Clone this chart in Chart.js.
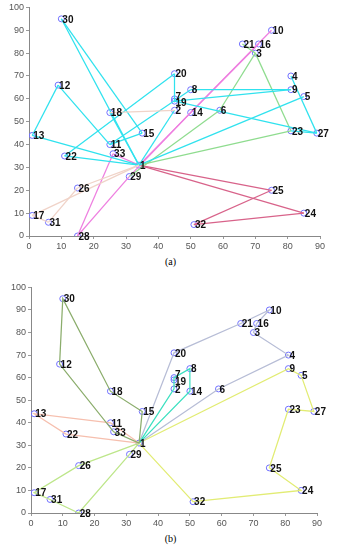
<!DOCTYPE html>
<html>
<head>
<meta charset="utf-8">
<script src="https://cdn.jsdelivr.net/npm/chart.js@4.4.0/dist/chart.umd.min.js"></script>
<style>
  html, body { margin: 0; padding: 0; background: #fff; }
  body { width: 341px; height: 550px; position: relative; overflow: hidden; font-family: "Liberation Serif", serif; }
  .wrap { position: absolute; left: 0; width: 341px; }
  .cap { position: absolute; width: 341px; text-align: center; font-size: 10px; color: #000; font-family: "Liberation Serif", serif; }
</style>
</head>
<body>
<div class="wrap" id="wa" style="top:0px;height:252px;"><canvas id="ca"></canvas></div>
<div class="cap" style="top:256px;">(a)</div>
<div class="wrap" id="wb" style="top:280px;height:250px;"><canvas id="cb"></canvas></div>
<div class="cap" style="top:533px;">(b)</div>
<script>
// ---- data ----
const nodeIds = [1,2,3,4,5,6,7,8,9,10,11,12,13,14,15,16,17,18,19,20,21,22,23,24,25,26,27,28,29,30,31,32,33];
const nodeX   = [34,45,70,81,85,59,45,50,81,75,25, 9, 1,50,35,71, 1,25,45,45,66,11,81,85,75,15,89,15,31,10, 6,51,26];
const nodeY   = [31,55,80,70,61,55,60,64,64,90,40,66,44,54,45,84, 9,54,59,71,84,35,46,10,20,21,45, 0,26,95, 6, 5,36];
const xTicks = [0,10,20,30,40,50,60,70,80,90];
const yTicks = [0,10,20,30,40,50,60,70,80,90,100];

// chart (a): edge lists per colour group
const cyanEdgesA    = [[30,1],[30,15],[12,13],[12,11],[13,1],[22,1],[22,20],[20,19],[11,15],[11,8],[8,9],[19,9],[19,27],[5,1],[4,27],[23,27],[18,1],[1,2]];
const pinkEdgesA    = [[1,33],[33,28],[28,29],[29,14],[14,10],[1,16]];
const greenEdgesA   = [[29,6],[6,3],[3,23],[23,1],[21,3]];
const crimsonEdgesA = [[1,25],[25,32],[32,24],[24,1]];
const peachEdgesA   = [[1,17],[17,31],[31,26],[26,1],[18,2]];

// chart (b): routes
const routeOlive  = [1,15,18,30,12,33,1];
const routeSalmon = [1,11,13,22,1];
const routeTeal   = [1,2,19,7,8,14,1];
const routeGrey   = [1,20,21,10,16,3,4,6,1];
const routeYellow = [1,9,5,27,23,25,24,32,1];
const routeLime   = [1,29,28,31,17,26,1];

// ---- helpers ----
const LW = 1.25;
function pt(id){ const i = nodeIds.indexOf(id); return {x: nodeX[i], y: nodeY[i]}; }
function edgeSets(edges, color){
  return edges.map(e => ({ type:'line', data:[pt(e[0]), pt(e[1])], borderColor: color, borderWidth: LW, pointRadius: 0, showLine: true, fill:false, tension:0 }));
}
function routeSet(route, color){
  return { type:'line', data: route.map(pt), borderColor: color, borderWidth: LW, pointRadius: 0, showLine: true, fill:false, tension:0 };
}
function nodeSet(){
  return { type:'scatter', data: nodeIds.map(pt), pointStyle:'circle', pointRadius: 3, pointBorderWidth: 1,
    pointBorderColor:'#7070ff', pointBackgroundColor:'rgba(255,255,255,0)', showLine:false };
}
const labelPlugin = {
  id:'nodeLabels',
  afterDatasetsDraw(chart){
    const ctx = chart.ctx, xs = chart.scales.x, ys = chart.scales.y;
    ctx.save();
    ctx.font = 'bold 10px "Liberation Sans", Arial, sans-serif';
    ctx.fillStyle = '#111';
    ctx.textBaseline = 'middle';
    ctx.textAlign = 'left';
    nodeIds.forEach((id, i) => {
      const px = xs.getPixelForValue(nodeX[i]);
      let py = ys.getPixelForValue(nodeY[i]);
      if (id === 7) py -= 3;
      if (id === 19) py += 1;
      ctx.fillText(String(id), px + 1, py + 1);
    });
    ctx.restore();
  }
};
function makeOptions(yw, xh, padR, padT){
  return {
    responsive:true, maintainAspectRatio:false, animation:false,
    layout:{ padding:{ left:0, right:padR, top:padT, bottom:0 } },
    plugins:{ legend:{display:false}, tooltip:{enabled:false} },
    scales:{
      x:{ type:'linear', min:0, max:90,
          afterBuildTicks(s){ s.ticks = xTicks.map(v=>({value:v})); },
          afterFit(s){ s.height = xh; },
          grid:{ drawOnChartArea:false, drawTicks:true, tickLength:3, color:'#999' },
          border:{ display:true, color:'#888', width:1 },
          ticks:{ color:'#555', font:{ size:9, family:'"Liberation Sans", Arial, sans-serif' }, padding:2, maxRotation:0 } },
      y:{ type:'linear', min:0, max:100,
          afterBuildTicks(s){ s.ticks = yTicks.map(v=>({value:v})); },
          afterFit(s){ s.width = yw; },
          grid:{ drawOnChartArea:false, drawTicks:true, tickLength:3, color:'#999' },
          border:{ display:true, color:'#888', width:1 },
          ticks:{ color:'#555', font:{ size:9, family:'"Liberation Sans", Arial, sans-serif' }, padding:2 } }
    }
  };
}

const dsA = [].concat(
  edgeSets(peachEdgesA, '#f0d3c8'),
  edgeSets(cyanEdgesA, '#30e2ee'),
  edgeSets(greenEdgesA, '#8fdc8f'),
  edgeSets(pinkEdgesA, '#ee7fe0'),
  edgeSets(crimsonEdgesA, '#d8638a'),
  [nodeSet()]
);
new Chart(document.getElementById('ca'), { type:'scatter', data:{ datasets: dsA }, options: makeOptions(29, 16, 21, 5), plugins:[labelPlugin] });

const dsB = [
  routeSet(routeOlive, '#8bad6c'),
  routeSet(routeSalmon, '#f6bfae'),
  routeSet(routeTeal, '#3de0c0'),
  routeSet(routeGrey, '#b7bdd6'),
  routeSet(routeYellow, '#e2ec74'),
  routeSet(routeLime, '#bde68a'),
  nodeSet()
];
new Chart(document.getElementById('cb'), { type:'scatter', data:{ datasets: dsB }, options: makeOptions(31, 17, 24, 5), plugins:[labelPlugin] });
</script>
</body>
</html>
